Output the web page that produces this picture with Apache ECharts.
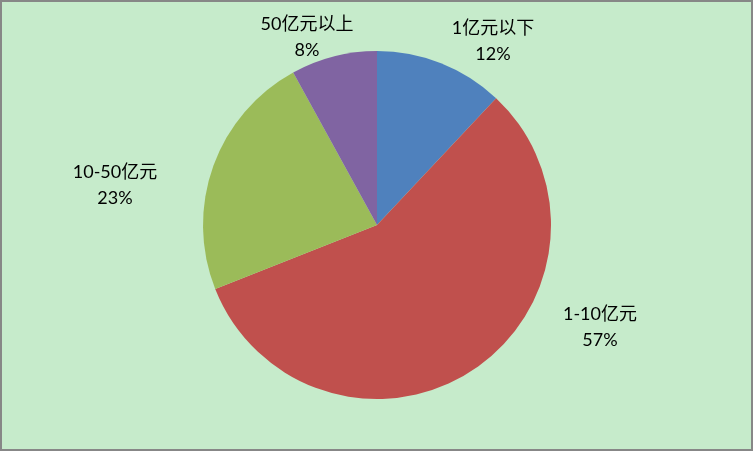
<!DOCTYPE html>
<html>
<head>
<meta charset="utf-8">
<script src="https://cdn.jsdelivr.net/npm/echarts@6/dist/echarts.min.js"></script>
<style>
html,body{margin:0;padding:0;background:#C6EBCB;}
#frame{position:absolute;left:0;top:0;width:753px;height:451px;box-sizing:border-box;border:2px solid #878787;background:#C6EBCB;}
#chart{position:absolute;left:0;top:0;width:753px;height:451px;}
</style>
</head>
<body>
<div id="frame"></div>
<div id="chart"></div>
<script>
const categories = ['1亿元以下', '1-10亿元', '10-50亿元', '50亿元以上'];
const values = [12, 57, 23, 8];
const colors = ['#4F81BD', '#C0504D', '#9BBB59', '#8064A2'];
// label anchor points (style/layout, not data)
const labelAnchors = [[493, 41], [600, 327], [115, 185], [307, 37]];

const chart = echarts.init(document.getElementById('chart'), null, {renderer: 'canvas'});
chart.setOption({
  backgroundColor: 'transparent',
  animation: false,
  series: [{
    type: 'pie',
    center: [377, 225],
    radius: 174,
    startAngle: 90,
    clockwise: true,
    data: categories.map((c, i) => ({name: c, value: values[i], itemStyle: {color: colors[i]}})),
    label: {
      show: true,
      position: 'outside',
      formatter: p => p.name + '\n' + p.value + '%',
      fontFamily: 'Lato, "Noto Sans CJK SC", sans-serif',
      fontSize: 18,
      lineHeight: 26,
      color: '#000',
      align: 'center'
    },
    labelLine: {show: false},
    labelLayout: function (params) {
      const a = labelAnchors[params.dataIndex];
      return {x: a[0], y: a[1], align: 'center', verticalAlign: 'middle'};
    },
    emphasis: {disabled: true}
  }]
});
</script>
</body>
</html>
